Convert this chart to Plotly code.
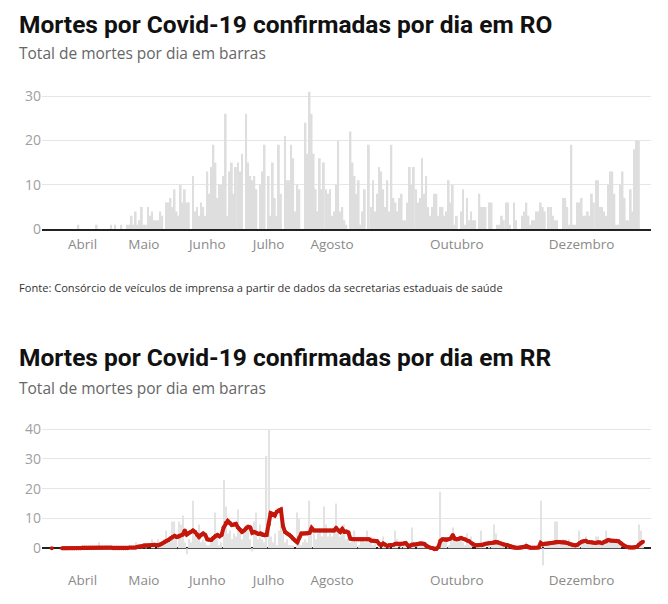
import pandas as pd
import plotly.graph_objects as go

W, H = 668, 604

# ---------------- DATA ----------------
start_date = "2020-03-17"

month_ticks = ["2020-04-01", "2020-05-01", "2020-06-01", "2020-07-01",
               "2020-08-01", "2020-10-01", "2020-12-01"]
month_labels = ["Abril", "Maio", "Junho", "Julho", "Agosto", "Outubro", "Dezembro"]

ro_yticks = [0, 10, 20, 30]
rr_yticks = [0, 10, 20, 30, 40]

# RO - daily deaths (bars)
ro_deaths = (
    [0] * 13 + [1] + [0] * 8 + [1] + [0] * 6 + [1, 0, 1, 0, 0, 1, 0, 0, 1, 1, 3]
    + [1, 4, 1, 2, 5, 1, 1, 5, 3, 4, 2, 2, 2, 4, 3]
    + [0]
    + [6, 6, 7, 5, 9, 4, 3, 10, 6, 9, 6, 6]
    + [0]
    + [12, 4, 5, 3, 6, 5]
    + [3, 13, 8, 14, 19, 15, 7, 10, 10, 12, 26]
    + [3, 13, 15, 8, 14, 15, 13, 17, 0, 26]
    + [15, 12, 11, 12, 9, 0, 10, 13, 19, 0]
    + [12, 3, 15, 7, 3, 19, 8, 0, 21, 11]
    + [11, 19, 16, 4, 10, 9, 0, 0, 24, 17, 31]
    + [26, 17, 9, 4, 16, 9, 15, 9, 8, 9]
    + [3, 4, 10, 20, 4, 5, 2, 1, 0]
    + [22, 15, 12, 8, 11, 1, 4, 9, 0, 19]
    + [5, 11, 4, 8, 14, 13, 9, 5, 11, 4]
    + [19, 7, 6, 4, 7, 8, 2, 2, 6, 14]
    + [10, 14, 9, 6, 7, 16, 8, 12, 5, 3]
    + [5, 8, 8, 3, 5, 5, 3, 4, 11, 6]
    + [10, 1, 3, 0, 4, 9, 1, 7, 2, 4]
    + [2, 2, 0, 8, 5, 5, 5, 0, 6, 6]
    + [0, 0]
    + [1, 1, 3, 2, 6, 6, 1, 0, 6, 2]
    + [0, 0, 3, 4, 6, 3, 1, 2, 2, 4]
    + [4, 6, 5, 4, 0, 5, 5, 3, 2, 2]
    + [0, 0, 7, 7, 5, 1, 19, 1, 1, 6]
    + [6, 7, 3, 3, 4, 3, 8, 6, 11, 11]
    + [5, 5, 4, 3, 10, 13, 13, 8, 1, 1]
    + [10, 13, 7, 2, 2, 9, 4, 18, 20, 20]
)

# RR - daily deaths (bars)
rr_deaths = (
    [0] * 23 + [2] + [0] * 17 + [2]
    + [0, 0, 1, 0, 1, 0, 0]
    + [3, 1, 0, 3, 1, 2, 3, 6, 2, 4, 9, 9, 3, 9, 8, 11, 2, -2, 3, 2, 16, 4, 5, 8, 2, 3, 2, 1]
    + [1]
    + [3, 4, 12, 5, 1, 2, 23, 14, 5, 6, 3, 5, 4, 13, 7, 3, 5, 8, 6, 3, -1, 9, 12, 3, 8, 3, 2]
    + [31, 40, 4, 2, 5, 1, 6, 14, 5, 2, 3, 1, 1, 1, 0, 12, 10, 1, 2, 3, 2, 16, 8, 5, 3, 5]
    + [6, 4, 14, 8, 4, 5, 4, 6, 15, 6, 4, 7, 8, 3, 5, 2, 3, 6, 2, 1, 3]
    + [3]
    + [2, 6, 2, 4, 1, 2, 0, 1, 0, 4, 2, 0, 1, 0, 1, 6, 3, 0, 1, 2, 1, 0, 1, 7, 2, 0, 1, 2]
    + [1, 1, 2, 1, 0, 0, 0, 0, 1, 19, 3, 2, 3, 1, 3, 7, 4, 2, 4, 3, 2, 1, 5, 1, 4, 0, 0]
    + [1, 1, 6, 2, 2, 0, 1, 1, 8, 5, 2, 1, 1, 1, 0, 1, 0, 0, 0, 0]
    + [0]
    + [1, 0, 0, 2, 0, 0, 0, 0, 0, 0, 16, -6, 1, 2, 1, 2, 1, 9, 9, 1, 2, 3, 1, 2, 3]
    + [1, 1, 1, 1, 6, 2, 3, 4, 2, 1, 2, 1, 4, 4, 1, 2, 3, 6, 3, 2, 3, 2, 2, 2, 1]
    + [0, 0, 0, 0, 0, 1, 0, 0, 8, 6, 1]
)

# RR - moving average (red line)
rr_average = (
    [0] + [None] * 4 + [0] * 10 + [0.3] * 15 + [0] * 8 + [0.3] * 4
    + [0.5, 0.6, 0.7, 1.0, 1.0, 1.0, 1.0, 1.1, 1.2, 1.1, 1.0, 1.3, 1.6, 2.0, 2.5, 2.8, 3.3,
       3.8, 4.2, 3.8, 3.9, 4.3, 4.6, 6.0, 4.6, 5.2, 5.5, 6.0, 5.5, 4.5, 3.8, 4.5, 5.0, 4.5]
    + [3.0, 2.9]
    + [2.8, 3.5, 4.2, 4.5, 4.0, 4.5, 7.0, 8.5, 9.2, 8.5,
       7.8, 8.0, 8.2, 7.0, 6.2, 5.5, 6.0, 6.8, 7.2, 7.0,
       5.2, 5.5, 5.2, 4.8, 5.0, 4.5, 4.4, 4.5, 8.0, 11.8,
       11.5, 11.0, 12.3, 12.8, 13.0, 7.5, 5.5, 5.0, 4.6, 4.0,
       3.2, 2.5, 2.0, 3.5, 5.0, 5.0, 5.0, 5.0, 5.2, 6.8, 6.0]
    + [6.0] * 10
    + [6.8, 6.0, 5.5, 6.5, 5.5, 5.6, 5.3]
    + [3.2, 3.0, 3.0, 3.0, 3.0, 3.0, 3.0, 3.0, 3.0, 3.0]
    + [2.6, 2.5, 2.5, 2.4, 1.5, 1.0, 1.6, 1.2, 0.8, 1.0,
       1.0, 1.2, 1.5, 1.5, 1.2, 1.5, 1.6, 1.8, 1.0, 0.8,
       1.2, 1.3, 1.2, 1.5, 1.7, 1.6, 1.5, 0.8, 0.5, 0.2,
       0.0, -0.3, -0.2, 0.5, 2.5, 3.0, 2.9, 2.8, 3.0, 3.3,
       4.5, 3.2, 3.0, 3.2, 3.5, 3.2, 3.0, 2.6, 2.4, 1.8,
       1.2, 1.0, 1.0, 1.0, 1.0, 1.3, 1.5, 1.6, 1.8, 1.8,
       2.0, 2.2, 2.0, 1.7, 1.5, 1.2, 1.2, 1.0, 0.8, 0.3,
       0.2, 0.2]
    + [0.2]
    + [0.2, 0.3, 0.5, 0.8, 0.3, 0.2, 0.2, 0.2, 0.2, 0.3,
       1.8, 1.3, 1.5, 1.5, 1.6, 1.8, 1.9, 2.0, 2.2, 2.1,
       2.0, 2.0, 2.0, 1.8, 1.5, 1.3, 1.0, 1.0, 1.2, 1.8,
       2.2, 2.4, 2.5, 2.1, 2.0, 2.0, 1.9, 1.8, 2.0, 2.0,
       1.7, 2.1, 2.3, 2.8, 2.6, 2.5, 2.5, 2.5, 2.4, 1.8,
       1.2, 0.8, 0.5, 0.3, 0.3, 0.3, 0.3, 0.5, 1.2, 1.8, 2.2]
)

ro_dates = pd.date_range(start_date, periods=len(ro_deaths), freq="D")
rr_bar_dates = pd.date_range(start_date, periods=len(rr_deaths), freq="D")
rr_line_dates = pd.date_range(start_date, periods=len(rr_average), freq="D")

# ---------------- LAYOUT HELPERS ----------------
DAY_MS = 86400000
x_range = ["2020-03-12 05:00", "2021-01-03 22:00"]


def fx(px):
    # screen x -> figure x
    return (px - 8) / W


def fy(px):
    # screen y -> paper fraction
    return 1 - ((px - 12) / 0.978) / H


x_dom = [fx(42), fx(651)]

fig = go.Figure()
fig.add_trace(go.Bar(x=ro_dates, y=ro_deaths, marker=dict(color="#dedede", line_width=0),
                     width=0.9 * DAY_MS, xaxis="x", yaxis="y", hoverinfo="x+y"))
fig.add_trace(go.Bar(x=rr_bar_dates, y=rr_deaths, marker=dict(color="#e3e3e3", line_width=0),
                     width=0.6 * DAY_MS, xaxis="x2", yaxis="y2", hoverinfo="x+y"))
fig.add_trace(go.Scatter(x=rr_line_dates, y=rr_average, mode="lines+markers",
                         line=dict(color="#c4170c", width=4),
                         marker=dict(color="#c4170c", size=4),
                         connectgaps=False, xaxis="x2", yaxis="y2", hoverinfo="x+y"))

tickfont_x = dict(family="Open Sans", size=13.5, color="#8a8a8a")
tickfont_y = dict(family="Open Sans", size=14, color="#a0a0a0")

common_x = dict(range=x_range, domain=x_dom, type="date", tickmode="array",
                tickvals=month_ticks, ticktext=month_labels, showgrid=False,
                tickfont=tickfont_x, ticks="outside", ticklen=2, tickcolor="rgba(0,0,0,0)",
                fixedrange=True)

common_y = dict(tickmode="array", showgrid=True, gridcolor="#e6e6e6", gridwidth=1,
                tickfont=tickfont_y, ticks="", fixedrange=True)

fig.update_layout(
    width=W, height=H,
    margin=dict(l=0, r=0, t=0, b=0),
    paper_bgcolor="white", plot_bgcolor="white",
    showlegend=False, barmode="overlay",
    font=dict(family="Open Sans"),
    xaxis=dict(**common_x, anchor="y", showline=True, linecolor="#222", linewidth=1.5),
    yaxis=dict(**common_y, domain=[fy(229), fy(87.2)], range=[0, 32],
               tickvals=ro_yticks, zeroline=False),
    xaxis2=dict(**common_x, anchor="y2", showline=False),
    yaxis2=dict(**common_y, domain=[fy(565.3), fy(423)], range=[-5.8, 42],
                tickvals=rr_yticks, zeroline=True, zerolinecolor="#222",
                zerolinewidth=1.5),
)

title_font = dict(family="Roboto", size=24.5, color="#111111", weight="bold")
sub_font = dict(family="Open Sans", size=15.5, color="#666666")
src_font = dict(family="Open Sans", size=11.1, color="#333333")

annots = [
    ("Mortes por Covid-19 confirmadas por dia em RO", 24, title_font),
    ("Total de mortes por dia em barras", 53, sub_font),
    ("Fonte: Consórcio de veículos de imprensa a partir de dados da secretarias estaduais de saúde", 287, src_font),
    ("Mortes por Covid-19 confirmadas por dia em RR", 357, title_font),
    ("Total de mortes por dia em barras", 388, sub_font),
]
for text, ypx, f in annots:
    fig.add_annotation(text=text, xref="paper", yref="paper", x=fx(17), y=fy(ypx),
                       xanchor="left", yanchor="middle", showarrow=False, font=f)

fig.write_html("out.html")
